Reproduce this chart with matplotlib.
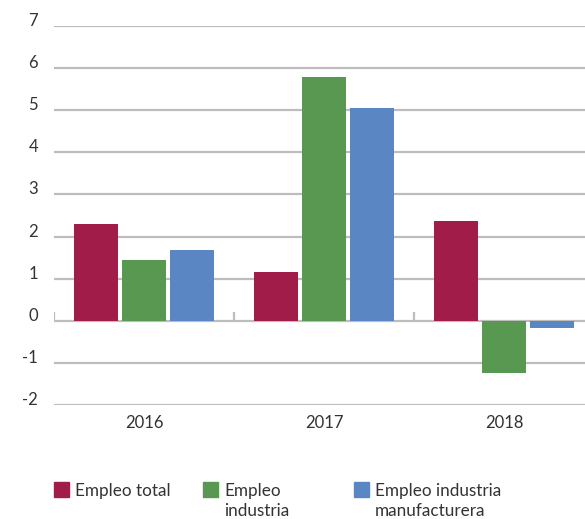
import matplotlib
matplotlib.use("Agg")
import matplotlib.pyplot as plt
from matplotlib.patches import Rectangle
import numpy as np

plt.rcParams['font.family'] = ['Lato', 'DejaVu Sans']

years = ['2016', '2017', '2018']
empleo_total = [2.31, 1.17, 2.38]
empleo_industria = [1.45, 5.79, -1.23]
empleo_manufactura = [1.67, 5.05, -0.18]

series_names = ['Empleo total', 'Empleo\nindustria', 'Empleo industria\nmanufacturera']
colors = ['#A11C48', '#589850', '#5A86C4']
text_color = '#333333'
grid_color = '#BDBDBD'

fig = plt.figure(figsize=(5.85, 5.19), dpi=100)
ax = fig.add_axes([54 / 585, 114 / 519, 531 / 585, 379 / 519])

x = np.arange(len(years))
w = 0.244
step = 0.267
for i, (vals, c) in enumerate(zip([empleo_total, empleo_industria, empleo_manufactura], colors)):
    ax.bar(x + (i - 1) * step, vals, width=w, color=c, zorder=3)

# horizontal grid, zero line and category separators
for v in range(-2, 8):
    ax.axhline(v, color=grid_color, lw=1.6, zorder=1)
ax.vlines([-0.5, 0.5, 1.5], 0, 0.2, color=grid_color, lw=1.6, zorder=1)

ax.set_xlim(-0.5, 2.45)
ax.set_ylim(-2, 7)
for s in ax.spines.values():
    s.set_visible(False)

ax.set_yticks(range(-2, 8))
ax.set_yticklabels([str(v) for v in range(-2, 8)])
ax.tick_params(axis='y', length=0, pad=11.5, labelsize=12, labelcolor=text_color)
for lbl in ax.get_yticklabels():
    lbl.set_verticalalignment('baseline')

ax.set_xticks(x)
ax.set_xticklabels(years)
ax.tick_params(axis='x', length=0, pad=7, labelsize=12, labelcolor=text_color)

# legend
legend_x = [54, 203, 354]
for name, c, lx in zip(series_names, colors, legend_x):
    fig.patches.append(Rectangle((lx / 585, (519 - 497) / 519), 15 / 585, 15 / 519,
                                 transform=fig.transFigure, color=c))
    fig.text((lx + 21) / 585, (519 - 483) / 519, name, ha='left', va='top',
             fontsize=12.3, color=text_color, linespacing=1.3)

fig.savefig('out.png', dpi=100)
